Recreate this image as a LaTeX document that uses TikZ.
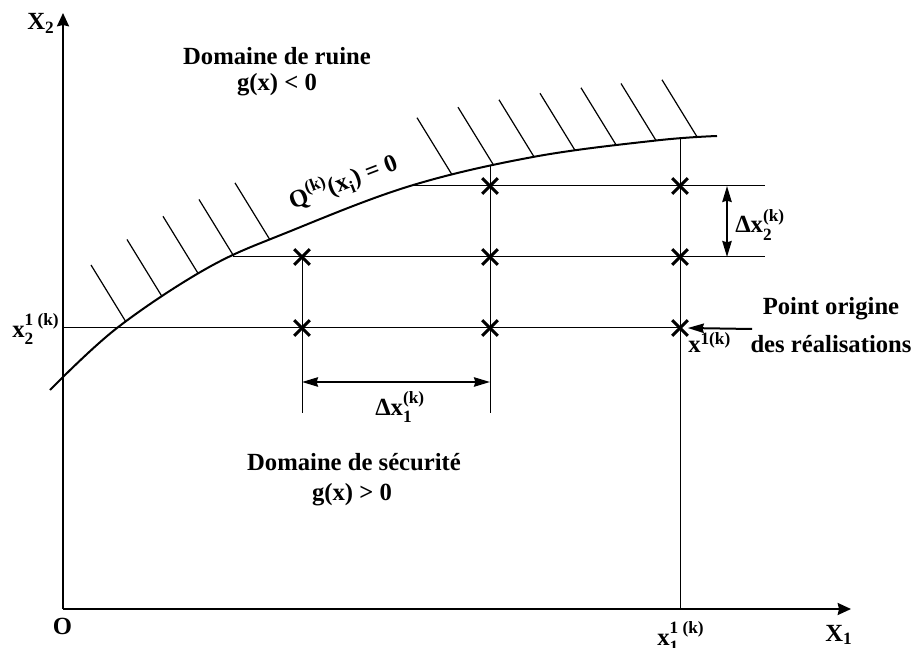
\documentclass[tikz,border=0pt]{standalone}
\usepackage{fontspec}
\usepackage{amsmath}
\setmainfont{Liberation Serif}
\usetikzlibrary{arrows.meta,shapes.misc}
\begin{document}
\begin{tikzpicture}[x=0.75pt,y=-0.75pt,
  lbl/.style={font=\fontsize{18.5}{22}\selectfont\bfseries, inner sep=0pt},
  axisline/.style={line width=1.5pt, -{Stealth[length=10pt,width=9pt,inset=1pt]}},
  gridline/.style={line width=0.75pt},
  hatch/.style={line width=0.9pt},
  crs/.style={cross out, draw, line width=2.2pt, minimum size=9.5pt, inner sep=0pt},
  dimarrow/.style={line width=1.5pt, {Stealth[length=12pt,width=7pt,inset=1pt]}-{Stealth[length=12pt,width=7pt,inset=1pt]}},
  onearrow/.style={line width=1.5pt, -{Stealth[length=12pt,width=7pt,inset=1pt]}}
]
\useasboundingbox (0,0) rectangle (920,648);

% axes
\coordinate (O) at (63,609);
\coordinate (Ytop) at (63,13);
\coordinate (Xend) at (851,609);
\draw[axisline] (O) -- (Ytop);
\draw[axisline] (O) -- (Xend);

% limit state curve
\draw[line width=1.5pt] plot[smooth, tension=0.6] coordinates
  {(50,390) (117,328) (208,267.7) (289,231.7) (410,186) (534,156.8) (656,140.5) (717,136)};

% hatching
\foreach \bx/\by in {126/322, 162/296.5, 198/273.3, 234/256.5, 270/239.9,
                     452/174.7, 493/164.2, 534/156.8, 575/150.3,
                     616/144.8, 656/140.5, 697/136.8}
  \draw[hatch] (\bx,\by) -- ++(-35,-57);

% grid coordinates
\coordinate (A1) at (302,328);
\coordinate (A2) at (302,257);
\coordinate (B1) at (490,328);
\coordinate (B2) at (490,257);
\coordinate (B3) at (490,186);
\coordinate (C1) at (680,328);
\coordinate (C2) at (680,257);
\coordinate (C3) at (680,186);
\coordinate (L1s) at (63,328);
\coordinate (L2s) at (233,257);
\coordinate (L2e) at (765,257);
\coordinate (L3s) at (410,186);
\coordinate (L3e) at (765,186);
\coordinate (VAb) at (302,413);
\coordinate (VBt) at (490,165);
\coordinate (VBb) at (490,413);
\coordinate (VCt) at (680,138);
\coordinate (VCb) at (680,609);

\draw[gridline] (L1s) -- (C1);
\draw[gridline] (L2s) -- (L2e);
\draw[gridline] (L3s) -- (L3e);
\draw[gridline] (A2) -- (VAb);
\draw[gridline] (VBt) -- (VBb);
\draw[gridline] (VCt) -- (VCb);

% crosses
\foreach \p in {A1,A2,B1,B2,B3,C1,C2,C3}
  \node[crs] (x\p) at (\p) {};

% dimension arrows
\coordinate (D1a) at (302,382);
\coordinate (D1b) at (490,382);
\draw[dimarrow] (D1a) -- (D1b);
\coordinate (D2a) at (727,186);
\coordinate (D2b) at (727,257);
\draw[dimarrow] (D2a) -- (D2b);

% point origine arrow
\coordinate (PO) at (752,329);
\draw[onearrow] (PO) -- (xC1.east);

% labels
\node[lbl, anchor=base west] (lX2) at (27,30) {$\text{X}_{\text{2}}$};
\node[lbl, anchor=base] (lO) at (62.5,634) {O};
\node[lbl, anchor=base west] (lX1) at (825,641) {$\text{X}_{\text{1}}$};
\node[lbl, anchor=base west] (lx1k) at (657,645) {$\text{x}^{\text{1 (k)}}_{\text{1}}$};
\node[lbl, anchor=base west] (lx2k) at (12,337) {$\text{x}^{\text{1 (k)}}_{\text{2}}$};
\node[lbl, anchor=base west] (lx1) at (688,353) {$\text{x}^{\text{1(k)}}$};
\node[lbl, anchor=base west] (ldx1) at (375,415) {$\text{Δx}^{\text{(k)}}_{\text{1}}$};
\node[lbl, anchor=base west] (ldx2) at (735,233) {$\text{Δx}^{\text{(k)}}_{\text{2}}$};
\node[lbl, anchor=base] (lpo1) at (831,315) {Point origine};
\node[lbl, anchor=base] (lpo2) at (831,353) {des réalisations};
\node[lbl, anchor=base] (lr1) at (277,65) {Domaine de ruine};
\node[lbl, anchor=base] (lr2) at (277,91) {g(x) < 0};
\node[lbl, anchor=base] (ls1) at (354,470) {Domaine de sécurité};
\node[lbl, anchor=base] (ls2) at (352,500) {g(x) > 0};
\node[lbl, rotate=21] (lQ) at (343,182) {$\text{Q}^{\text{(k)}}\text{(x}_{\text{i}}\text{) = 0}$};
\end{tikzpicture}
\end{document}
